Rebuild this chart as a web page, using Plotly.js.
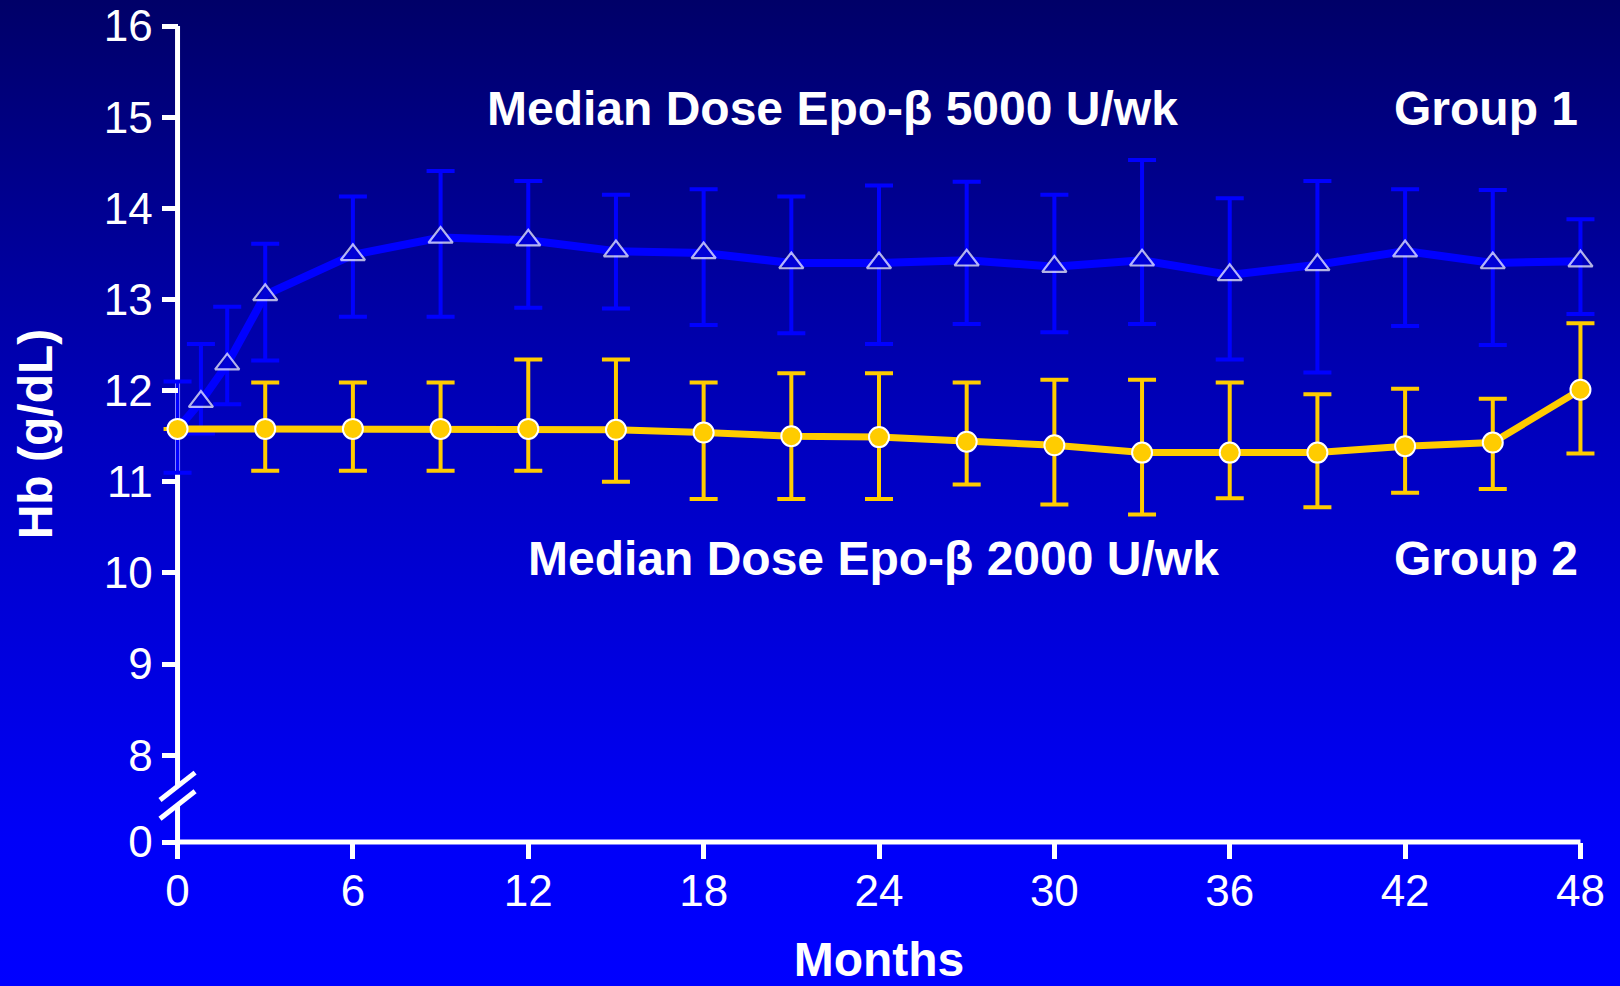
<!DOCTYPE html>
<html>
<head>
<meta charset="utf-8">
<script src="https://cdn.plot.ly/plotly-3.0.1.min.js"></script>
<style>
html, body { margin:0; padding:0; width:1620px; height:986px; overflow:hidden;
  background: linear-gradient(to bottom, #000068 0%, #0000c0 45%, #0000f8 85%, #0000ff 100%); }
#chart { width:1620px; height:986px; }
</style>
</head>
<body>
<div id="chart"></div>
<script>
// ---- Data ----
// Group 1 (Median dose Epo-beta 5000 U/wk)
const months1 = [0, 0.8, 1.7, 3, 6, 9, 12, 15, 18, 21, 24, 27, 30, 33, 36, 39, 42, 45, 48];
const hb1     = [11.58, 11.88, 12.29, 13.05, 13.49, 13.68, 13.65, 13.53, 13.51, 13.40, 13.40, 13.43, 13.36, 13.43, 13.27, 13.38, 13.53, 13.40, 13.42];
const hb1High = [12.10, 12.51, 12.92, 13.61, 14.13, 14.41, 14.30, 14.15, 14.21, 14.13, 14.25, 14.29, 14.15, 14.53, 14.11, 14.30, 14.21, 14.20, 13.88];
const hb1Low  = [11.10, 11.53, 11.85, 12.33, 12.81, 12.81, 12.91, 12.90, 12.72, 12.63, 12.51, 12.73, 12.64, 12.73, 12.34, 12.20, 12.71, 12.50, 12.84];

// Group 2 (Median dose Epo-beta 2000 U/wk)
const months2 = [0, 3, 6, 9, 12, 15, 18, 21, 24, 27, 30, 33, 36, 39, 42, 45, 48];
const hb2     = [11.58, 11.58, 11.58, 11.58, 11.58, 11.57, 11.54, 11.50, 11.49, 11.44, 11.40, 11.32, 11.32, 11.32, 11.39, 11.43, 12.01];
const hb2High = [null, 12.09, 12.09, 12.09, 12.34, 12.34, 12.09, 12.19, 12.19, 12.09, 12.12, 12.12, 12.09, 11.96, 12.02, 11.91, 12.74];
const hb2Low  = [null, 11.12, 11.12, 11.12, 11.12, 11.00, 10.81, 10.81, 10.81, 10.97, 10.75, 10.64, 10.82, 10.72, 10.88, 10.92, 11.31];

// Axis ticks
const xTickVals  = [0, 6, 12, 18, 24, 30, 36, 42, 48];
const xTickText  = ['0', '6', '12', '18', '24', '30', '36', '42', '48'];
const yTickText  = ['0', '8', '9', '10', '11', '12', '13', '14', '15', '16'];
const yTickReal  = [0, 8, 9, 10, 11, 12, 13, 14, 15, 16];

// Text labels
const group1Dose = 'Median Dose Epo-β 5000 U/wk';
const group2Dose = 'Median Dose Epo-β 2000 U/wk';
const group1Name = 'Group 1';
const group2Name = 'Group 2';
const xTitle = 'Months';
const yTitle = 'Hb (g/dL)';

// ---- Axis geometry: broken y axis, value 0 is drawn just below 8 ----
const ZERO_POS = 7.048;
const yPos = v => (v === 0 ? ZERO_POS : v);
const yTickVals = yTickReal.map(yPos);
const X_MIN = 0, X_MAX = 48, X_PAD = 0.6;
const xRange = [X_MIN - X_PAD, X_MAX + X_PAD];
const yRange = [ZERO_POS, 16];
// convert data values to paper fractions (for the hand-drawn axis lines)
const px = v => (v - xRange[0]) / (xRange[1] - xRange[0]);
const py = v => (v - yRange[0]) / (yRange[1] - yRange[0]);

const errPlus  = (hi, c) => hi.map((h, i) => (h === null ? null : +(h - c[i]).toFixed(3)));
const errMinus = (lo, c) => lo.map((l, i) => (l === null ? null : +(c[i] - l).toFixed(3)));

const FONT = 'Liberation Sans, Arial, Helvetica, sans-serif';
const BLUE = '#0000ff';
const GOLD = '#ffcc00';

const traceG1 = {
  x: months1, y: hb1, type: 'scatter', mode: 'lines+markers', name: group1Name,
  cliponaxis: false,
  line: { color: BLUE, width: 8 },
  marker: { symbol: 'triangle-up', size: months1.map((m, i) => (i === 0 ? 0 : 21)),
            color: '#0000c4', line: { color: 'white', width: 2.2 } },
  error_y: { type: 'data', symmetric: false, array: errPlus(hb1High, hb1),
             arrayminus: errMinus(hb1Low, hb1), color: BLUE, thickness: 4, width: 14 }
};
const traceG2 = {
  x: months2, y: hb2, type: 'scatter', mode: 'lines+markers', name: group2Name,
  cliponaxis: false,
  line: { color: GOLD, width: 7 },
  marker: { symbol: 'circle', size: 20, color: GOLD, line: { color: 'white', width: 2 } },
  error_y: { type: 'data', symmetric: false, array: errPlus(hb2High, hb2),
             arrayminus: errMinus(hb2Low, hb2), color: GOLD, thickness: 4, width: 14 }
};

const breakLow = 7.454, breakHigh = 7.659, slashDx = 0.6, slashDy = 0.15;
const AXW = 5;
const shapes = [
  // x axis line from 0 to 48
  { type: 'line', xref: 'paper', yref: 'paper', x0: px(X_MIN), x1: px(X_MAX), y0: 0, y1: 0,
    line: { color: 'white', width: AXW }, layer: 'below' },
  // y axis line with a break
  { type: 'line', xref: 'paper', yref: 'paper', x0: px(0), x1: px(0), y0: 0, y1: py(breakLow),
    line: { color: 'white', width: AXW }, layer: 'below' },
  { type: 'line', xref: 'paper', yref: 'paper', x0: px(0), x1: px(0), y0: py(breakHigh), y1: 1,
    line: { color: 'white', width: AXW }, layer: 'below' },
  { type: 'line', xref: 'paper', yref: 'paper', x0: px(-slashDx), x1: px(slashDx),
    y0: py(breakLow - slashDy), y1: py(breakLow + slashDy),
    line: { color: 'white', width: 5 }, layer: 'above' },
  { type: 'line', xref: 'paper', yref: 'paper', x0: px(-slashDx), x1: px(slashDx),
    y0: py(breakHigh - slashDy), y1: py(breakHigh + slashDy),
    line: { color: 'white', width: 5 }, layer: 'above' }
];

const boldFont = { family: FONT, size: 48, color: 'white', weight: 'bold' };
const annotations = [
  { text: group1Dose, x: 22.42, y: 15.10, xref: 'x', yref: 'y', showarrow: false, xanchor: 'center', yanchor: 'middle', font: boldFont },
  { text: group1Name, x: 41.55, y: 15.10, xref: 'x', yref: 'y', showarrow: false, xanchor: 'left', yanchor: 'middle', font: boldFont },
  { text: group2Dose, x: 23.82, y: 10.16, xref: 'x', yref: 'y', showarrow: false, xanchor: 'center', yanchor: 'middle', font: boldFont },
  { text: group2Name, x: 41.55, y: 10.16, xref: 'x', yref: 'y', showarrow: false, xanchor: 'left', yanchor: 'middle', font: boldFont }
];

const tickFont = { family: FONT, size: 44, color: 'white' };

const layout = {
  width: 1620, height: 986,
  margin: { l: 160, r: 22, t: 26, b: 144 },
  paper_bgcolor: 'rgba(0,0,0,0)', plot_bgcolor: 'rgba(0,0,0,0)',
  showlegend: false,
  xaxis: {
    range: xRange, tickvals: xTickVals, ticktext: xTickText,
    showline: false, ticks: 'outside', ticklen: 16, tickwidth: AXW, tickcolor: 'white',
    ticklabelstandoff: -6,
    showgrid: false, zeroline: false, tickfont: tickFont,
    title: { text: xTitle, font: boldFont, standoff: 32 }
  },
  yaxis: {
    range: yRange, tickvals: yTickVals, ticktext: yTickText,
    anchor: 'free', position: px(0),
    showline: false, ticks: 'outside', ticklen: 16, tickwidth: AXW, tickcolor: 'white',
    showgrid: false, zeroline: false, tickfont: tickFont,
    title: { text: yTitle, font: boldFont, standoff: 34 }
  },
  shapes: shapes,
  annotations: annotations
};

Plotly.newPlot('chart', [traceG1, traceG2], layout, { displayModeBar: false, staticPlot: true });
</script>
</body>
</html>
